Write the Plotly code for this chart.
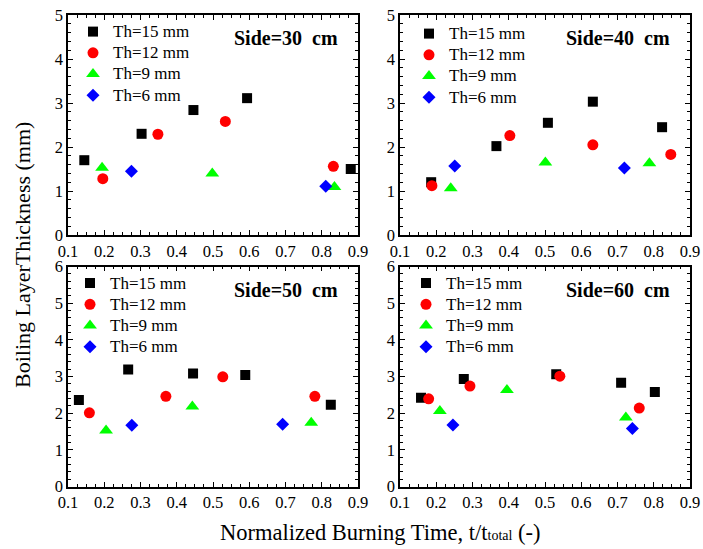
import plotly.graph_objects as go

# ---- data (x = normalized burning time, y = boiling layer thickness mm) ----
series_names = ["Th=15 mm", "Th=12 mm", "Th=9 mm", "Th=6 mm"]
panel_titles = ["Side=30  cm", "Side=40  cm", "Side=50  cm", "Side=60  cm"]

# Side = 30 cm
s30_th15_x = [0.145, 0.303, 0.446, 0.594, 0.880]
s30_th15_y = [1.70, 2.30, 2.84, 3.11, 1.50]
s30_th12_x = [0.196, 0.348, 0.534, 0.832]
s30_th12_y = [1.28, 2.29, 2.58, 1.56]
s30_th9_x = [0.194, 0.498, 0.835]
s30_th9_y = [1.53, 1.40, 1.09]
s30_th6_x = [0.275, 0.811]
s30_th6_y = [1.45, 1.11]

# Side = 40 cm
s40_th15_x = [0.186, 0.366, 0.508, 0.632, 0.823]
s40_th15_y = [1.20, 2.02, 2.55, 3.03, 2.45]
s40_th12_x = [0.188, 0.403, 0.632, 0.847]
s40_th12_y = [1.12, 2.26, 2.05, 1.83]
s40_th9_x = [0.240, 0.501, 0.788]
s40_th9_y = [1.06, 1.65, 1.63]
s40_th6_x = [0.251, 0.719]
s40_th6_y = [1.57, 1.52]

# Side = 50 cm
s50_th15_x = [0.130, 0.266, 0.445, 0.589, 0.825]
s50_th15_y = [2.36, 3.19, 3.08, 3.04, 2.23]
s50_th12_x = [0.159, 0.370, 0.527, 0.781]
s50_th12_y = [2.01, 2.46, 2.99, 2.46]
s50_th9_x = [0.205, 0.443, 0.771]
s50_th9_y = [1.53, 2.18, 1.74]
s50_th6_x = [0.276, 0.692]
s50_th6_y = [1.67, 1.70]

# Side = 60 cm
s60_th15_x = [0.158, 0.276, 0.531, 0.710, 0.803]
s60_th15_y = [2.42, 2.93, 3.06, 2.83, 2.58]
s60_th12_x = [0.179, 0.293, 0.541, 0.760]
s60_th12_y = [2.39, 2.74, 3.01, 2.14]
s60_th9_x = [0.210, 0.395, 0.723]
s60_th9_y = [2.06, 2.63, 1.88]
s60_th6_x = [0.246, 0.741]
s60_th6_y = [1.68, 1.58]

x_ticks = [0.1, 0.2, 0.3, 0.4, 0.5, 0.6, 0.7, 0.8, 0.9]
y_ticks_top = [0, 1, 2, 3, 4, 5]
y_ticks_bottom = [0, 1, 2, 3, 4, 5, 6]

panels = [
    [(s30_th15_x, s30_th15_y), (s30_th12_x, s30_th12_y), (s30_th9_x, s30_th9_y), (s30_th6_x, s30_th6_y)],
    [(s40_th15_x, s40_th15_y), (s40_th12_x, s40_th12_y), (s40_th9_x, s40_th9_y), (s40_th6_x, s40_th6_y)],
    [(s50_th15_x, s50_th15_y), (s50_th12_x, s50_th12_y), (s50_th9_x, s50_th9_y), (s50_th6_x, s50_th6_y)],
    [(s60_th15_x, s60_th15_y), (s60_th12_x, s60_th12_y), (s60_th9_x, s60_th9_y), (s60_th6_x, s60_th6_y)],
]

# ---- styles ----
W, H = 703, 549
FONT = "Liberation Serif"
styles = [
    dict(symbol="square", color="#000000", size=10),
    dict(symbol="circle", color="#ff0000", size=11),
    dict(symbol="triangle-up", color="#00ff00", size=12),
    dict(symbol="diamond", color="#0000ff", size=10),
]

# panel boxes in pixels: (left, right, top, bottom)
boxes = [(68, 358, 15, 235), (400, 690, 15, 235), (68, 358, 266.5, 486.5), (400, 690, 266.5, 486.5)]
# legend symbol position relative to each panel's top-left corner (px)
legend_offsets = [(25, 18), (29, 20), (22, 18), (26, 18)]

fig = go.Figure()
legend_names = ["legend", "legend2", "legend3", "legend4"]
for p, data in enumerate(panels):
    ax = "" if p == 0 else str(p + 1)
    for s, (xs, ys) in enumerate(data):
        st = styles[s]
        fig.add_trace(go.Scatter(
            x=xs, y=ys, mode="markers",
            name="<span style='font-size:17px'>" + series_names[s] + "</span>",
            xaxis="x" + ax, yaxis="y" + ax, legend=legend_names[p],
            marker=dict(symbol=st["symbol"], color=st["color"], size=st["size"], line=dict(width=0)),
        ))

layout = dict(
    width=W, height=H, margin=dict(l=0, r=0, t=0, b=0),
    paper_bgcolor="white", plot_bgcolor="white",
    font=dict(family=FONT, size=16, color="black"),
    showlegend=True,
)

common_axis = dict(
    showline=True, linecolor="black", linewidth=1.6, mirror="allticks",
    ticks="inside", ticklen=5, tickwidth=1.2, tickcolor="black",
    showgrid=False, zeroline=False, automargin=False,
    tickfont=dict(family=FONT, size=16.5, color="black"),
)

annotations = []
for p, (l, r, t, b) in enumerate(boxes):
    ax = "" if p == 0 else str(p + 1)
    xdom = [l / W, r / W]
    ydom = [1 - b / H, 1 - t / H]
    yticks = y_ticks_top if p < 2 else y_ticks_bottom
    layout["xaxis" + ax] = dict(
        common_axis, domain=xdom, anchor="y" + ax, range=[0.1, 0.9],
        tickvals=x_ticks, ticktext=["%.1f" % v for v in x_ticks],
        minor=dict(ticks="inside", ticklen=3, dtick=0.025, tickcolor="black", tickwidth=1),
    )
    layout["yaxis" + ax] = dict(
        common_axis, domain=ydom, anchor="x" + ax, range=[0, yticks[-1]],
        tickvals=yticks, ticktext=[str(v) for v in yticks],
        minor=dict(ticks="inside", ticklen=3, dtick=0.2, tickcolor="black", tickwidth=1),
    )
    mx, my = legend_offsets[p]
    layout[legend_names[p]] = dict(
        x=(l + mx - 20) / W, y=1 - (t + my - 17) / H, xanchor="left", yanchor="top",
        bgcolor="rgba(0,0,0,0)", borderwidth=0,
        font=dict(family=FONT, size=14, color="black"),
        tracegroupgap=0, itemwidth=30,
    )
    annotations.append(dict(
        text="<b>" + panel_titles[p] + "</b>", xref="paper", yref="paper",
        x=(r - 18) / W, y=1 - (t + 23) / H, xanchor="right", yanchor="middle",
        showarrow=False, font=dict(family=FONT, size=20, color="black"),
    ))

annotations.append(dict(
    text="Boiling LayerThickness (mm)", xref="paper", yref="paper",
    x=22 / W, y=1 - 255 / H, textangle=-90, xanchor="center", yanchor="middle",
    showarrow=False, font=dict(family=FONT, size=22, color="black"),
))
annotations.append(dict(
    text="Normalized Burning Time, t/t<span style='font-size:14px'>total</span> (-)",
    xref="paper", yref="paper", x=380 / W, y=1 - 532 / H,
    xanchor="center", yanchor="middle",
    showarrow=False, font=dict(family=FONT, size=22.5, color="black"),
))
layout["annotations"] = annotations

fig.update_layout(**layout)
fig.write_html("out.html")
